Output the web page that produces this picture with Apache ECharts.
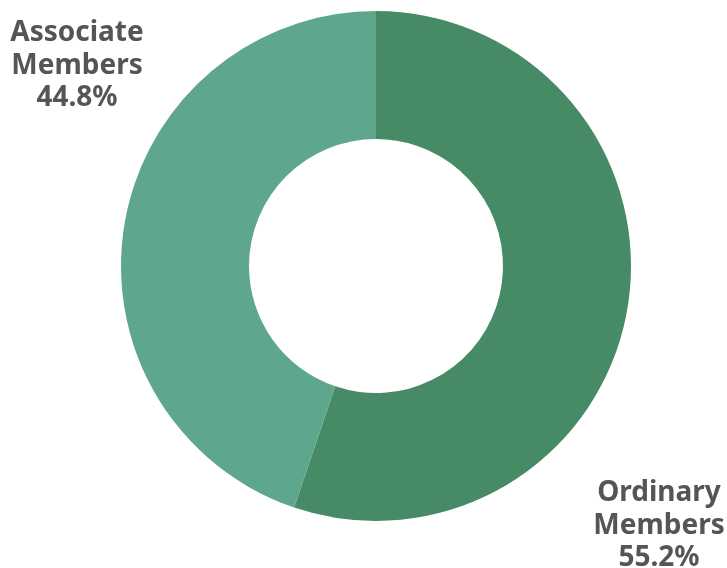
<!DOCTYPE html>
<html><head><meta charset="utf-8">
<script src="https://cdn.jsdelivr.net/npm/echarts@6/dist/echarts.min.js"></script>
<style>html,body{margin:0;padding:0;background:#fff}#c{width:727px;height:568px}</style>
</head><body><div id="c"></div>
<script>
const categories = ['Ordinary Members', 'Associate Members'];
const values = [55.2, 44.8];
const colors = ['#468a66', '#5fa68e'];
const labelAnchors = [[659, 477], [77, 17]];

const chart = echarts.init(document.getElementById('c'), null, {renderer: 'canvas'});
chart.setOption({
  animation: false,
  series: [{
    type: 'pie',
    center: [376, 266],
    radius: [127, 255],
    startAngle: 90,
    clockwise: true,
    avoidLabelOverlap: false,
    data: categories.map((n, i) => ({name: n, value: values[i], itemStyle: {color: colors[i]}})),
    label: {
      show: true,
      position: 'inside',
      overflow: 'none',
      formatter: p => p.name.replace(' ', '\n') + '\n' + p.value.toFixed(1) + '%',
      fontFamily: 'Noto Sans',
      fontWeight: 'bold',
      fontSize: 28,
      lineHeight: 32.5,
      color: '#555555',
      align: 'center'
    },
    labelLine: {show: false},
    labelLayout: p => ({
      x: labelAnchors[p.dataIndex][0],
      y: labelAnchors[p.dataIndex][1],
      align: 'center',
      verticalAlign: 'top'
    }),
    emphasis: {disabled: true}
  }]
});
</script></body></html>
